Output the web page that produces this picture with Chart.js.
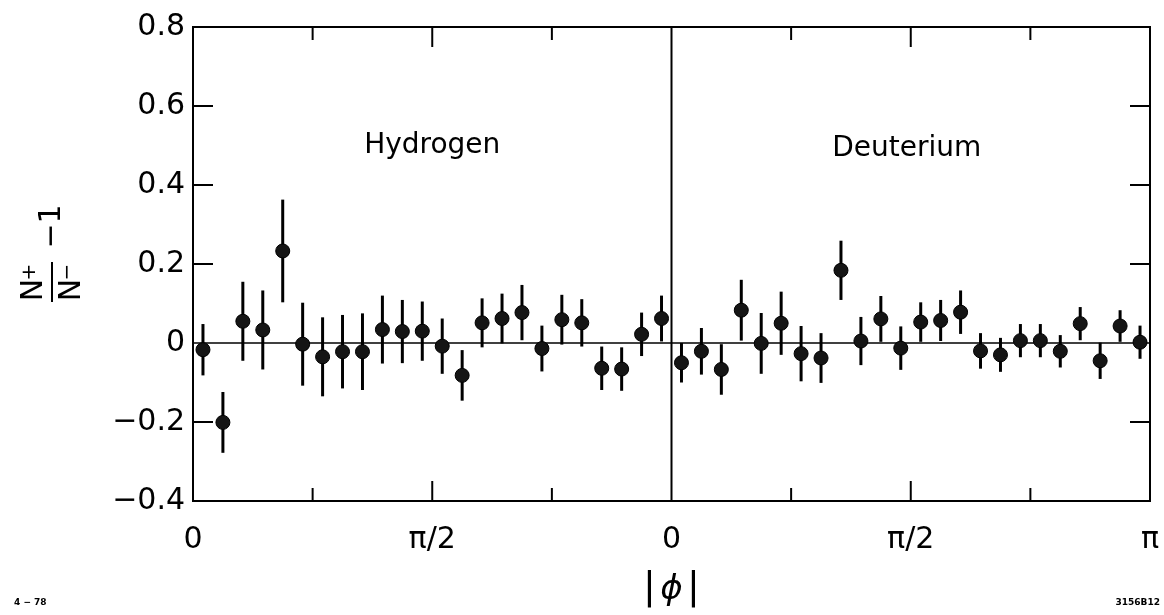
<!DOCTYPE html>
<html>
<head>
<meta charset="utf-8">
<script src="https://cdn.jsdelivr.net/npm/chart.js@4.4.0/dist/chart.umd.min.js"></script>
<style>
body { margin: 0; background: #fff; }
#wrap { width: 1164px; height: 615px; }
</style>
</head>
<body>
<div id="wrap"><canvas id="chart" width="1164" height="615"></canvas></div>
<script>
// 24 bins in |phi| from 0 to pi for each target
const nBins = 24

const hydrogenY = [-0.017, -0.201, 0.055, 0.033, 0.233, -0.003, -0.035, -0.022, -0.022, 0.034, 0.029, 0.030,
    -0.008, -0.082, 0.051, 0.062, 0.077, -0.014, 0.059, 0.051, -0.064, -0.066, 0.022, 0.062]
const hydrogenErr = [0.065, 0.077, 0.10, 0.10, 0.13, 0.105, 0.10, 0.093, 0.097, 0.086, 0.08, 0.075,
    0.07, 0.064, 0.062, 0.063, 0.07, 0.058, 0.063, 0.06, 0.055, 0.055, 0.055, 0.058]

const deuteriumY = [-0.050, -0.021, -0.067, 0.083, -0.001, 0.050, -0.027, -0.038, 0.184, 0.005, 0.061, -0.013,
    0.053, 0.057, 0.078, -0.020, -0.030, 0.006, 0.006, -0.021, 0.049, -0.045, 0.043, 0.002]
const deuteriumErr = [0.05, 0.059, 0.064, 0.077, 0.077, 0.08, 0.07, 0.063, 0.075, 0.061, 0.058, 0.055,
    0.05, 0.052, 0.055, 0.045, 0.043, 0.042, 0.042, 0.041, 0.042, 0.046, 0.04, 0.042]

const yTicks = [-0.4, -0.2, 0, 0.2, 0.4, 0.6, 0.8]
const xTickLabels = ['0', '', 'π/2', '', '0', '', 'π/2', '', 'π']
const panelNames = ['Hydrogen', 'Deuterium']

// second panel sits after the first one, shifted by pi
function toPoints(vals, errs, offset) {
    return vals.map((v, i) => ({ x: offset + (i + 0.5) * Math.PI / nBins, y: v, err: errs[i] }))
}

function line(c, x1, y1, x2, y2) {
    c.beginPath()
    c.moveTo(x1, y1)
    c.lineTo(x2, y2)
    c.stroke()
}

const frame = {
    id: 'frame',
    beforeDatasetsDraw(chart) {
        const c = chart.ctx, a = chart.chartArea
        const xs = chart.scales.x, ys = chart.scales.y
        c.save()
        c.strokeStyle = '#000'
        c.lineWidth = 2
        c.strokeRect(a.left, a.top, a.right - a.left, a.bottom - a.top)
        const xm = xs.getPixelForValue(Math.PI)
        line(c, xm, a.top, xm, a.bottom)
        c.lineWidth = 1.5
        const y0 = ys.getPixelForValue(0)
        line(c, a.left, y0, a.right, y0)
        c.lineWidth = 2
        ys.ticks.forEach(t => {
            if (t.value <= ys.min || t.value >= ys.max || Math.abs(t.value) < 1e-9) return
            const y = ys.getPixelForValue(t.value)
            line(c, a.left, y, a.left + 20, y)
            line(c, a.right - 20, y, a.right, y)
        })
        xs.ticks.forEach((t, i) => {
            if (i === 0 || i === 4 || i === xs.ticks.length - 1) return
            const x = xs.getPixelForValue(t.value)
            const len = i % 2 ? 13 : 20
            line(c, x, a.top, x, a.top + len)
            line(c, x, a.bottom, x, a.bottom - len)
        })
        c.restore()
    }
}

const errorBars = {
    id: 'errorBars',
    beforeDatasetsDraw(chart) {
        const c = chart.ctx, ys = chart.scales.y
        c.save()
        c.strokeStyle = '#000'
        c.lineWidth = 3
        chart.data.datasets.forEach((ds, d) => {
            chart.getDatasetMeta(d).data.forEach((pt, i) => {
                const p = ds.data[i]
                line(c, pt.x, ys.getPixelForValue(p.y + p.err), pt.x, ys.getPixelForValue(p.y - p.err))
            })
        })
        c.restore()
    }
}

const labels = {
    id: 'labels',
    afterDraw(chart) {
        const c = chart.ctx, xs = chart.scales.x
        c.save()
        c.fillStyle = '#000'
        c.textAlign = 'center'
        c.textBaseline = 'middle'

        c.font = '28px "DejaVu Sans"'
        c.fillText(panelNames[0], xs.getPixelForValue(Math.PI / 2), 146)
        c.fillText(panelNames[1], xs.getPixelForValue(3 * Math.PI / 2) - 4, 149)

        // |phi|
        const xc = xs.getPixelForValue(Math.PI)
        c.font = '38px "DejaVu Sans"'
        c.fillText('|', xc - 22, 588)
        c.fillText('|', xc + 22, 588)
        c.font = 'italic 34px "DejaVu Sans"'
        c.fillText('ϕ', xc, 590)

        // N+/N- - 1, rotated
        c.translate(52, 290)
        c.rotate(-Math.PI / 2)
        c.font = '30px "DejaVu Sans"'
        c.fillText('N', 0, -18)
        c.fillText('N', 0, 20)
        c.font = '20px "DejaVu Sans"'
        c.fillText('+', 18, -22)
        c.fillText('−', 18, 16)
        c.lineWidth = 2
        c.strokeStyle = '#000'
        line(c, -12, 0, 28, 0)
        c.font = '30px "DejaVu Sans"'
        c.fillText('−', 54, 0)
        c.fillText('1', 76, 0)
        c.setTransform(1, 0, 0, 1, 0, 0)

        c.font = 'bold 9px "DejaVu Sans"'
        c.textAlign = 'left'
        c.fillText('4 − 78', 14, 603)
        c.textAlign = 'right'
        c.fillText('3156B12', 1160, 603)
        c.restore()
    }
}

const ctx = document.getElementById('chart').getContext('2d')

const dataChart = new Chart(ctx, {
    type: 'scatter',
    data: {
        datasets: [
            {
                label: panelNames[0],
                data: toPoints(hydrogenY, hydrogenErr, 0),
                backgroundColor: '#151515',
                borderColor: '#000',
                borderWidth: 1,
                pointRadius: 7,
            },
            {
                label: panelNames[1],
                data: toPoints(deuteriumY, deuteriumErr, Math.PI),
                backgroundColor: '#151515',
                borderColor: '#000',
                borderWidth: 1,
                pointRadius: 7,
            },
        ]
    },
    options: {
        responsive: false,
        animation: false,
        layout: { padding: { top: 27, right: 14, left: 0, bottom: 0 } },
        plugins: {
            legend: { display: false },
            tooltip: { enabled: false },
        },
        scales: {
            x: {
                type: 'linear',
                min: 0,
                max: 2 * Math.PI,
                grid: { display: false, drawTicks: false },
                border: { display: false },
                afterBuildTicks: scale => {
                    scale.ticks = xTickLabels.map((l, i) => ({ value: i * Math.PI / 4 }))
                },
                afterFit: scale => {
                    scale.height = 114
                    scale.paddingLeft = 0
                    scale.paddingRight = 0
                },
                ticks: {
                    autoSkip: false,
                    maxRotation: 0,
                    padding: 21,
                    color: '#000',
                    font: { family: 'DejaVu Sans', size: 30 },
                    callback: (v, i) => xTickLabels[i],
                }
            },
            y: {
                min: -0.4,
                max: 0.8,
                grid: { display: false, drawTicks: false },
                border: { display: false },
                afterBuildTicks: scale => {
                    scale.ticks = yTicks.map(v => ({ value: v }))
                },
                afterFit: scale => {
                    scale.width = 193
                    scale.paddingTop = 0
                    scale.paddingBottom = 0
                },
                ticks: {
                    padding: 8,
                    color: '#000',
                    font: { family: 'DejaVu Sans', size: 30 },
                    callback: v => Math.abs(v) < 1e-9 ? '0' : (v < 0 ? '−' : '') + Math.abs(v).toFixed(1),
                }
            }
        }
    },
    plugins: [frame, errorBars, labels]
});
</script>
</body>
</html>
